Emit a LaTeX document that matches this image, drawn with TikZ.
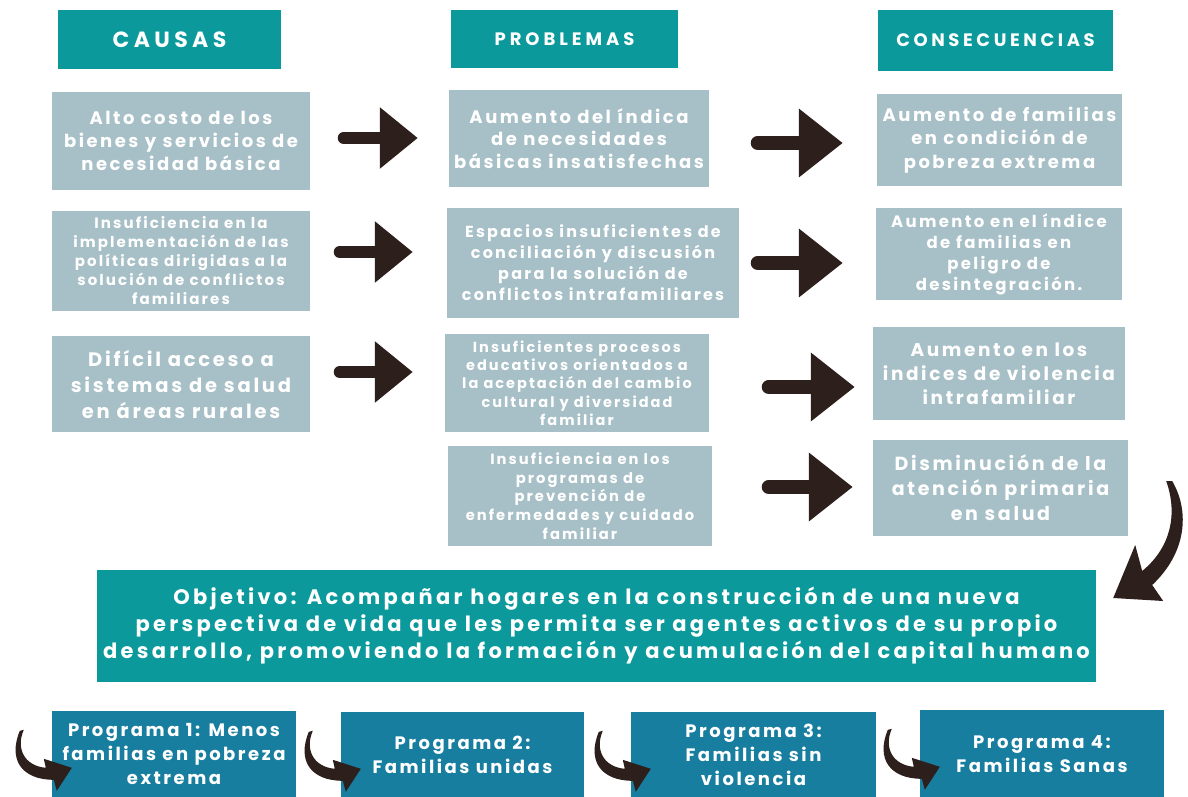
\documentclass[tikz,border=0pt]{standalone}
\usepackage{fontspec}
\setmainfont{Poppins}[LetterSpace=14]
\usetikzlibrary{arrows.meta,calc}
\definecolor{hdr}{HTML}{0B999C}
\definecolor{gbox}{HTML}{A7BFC6}
\definecolor{prog}{HTML}{187EA0}
\definecolor{arr}{HTML}{2D1F1C}
\newcommand{\setfs}[2]{\fontsize{#1}{#2}\selectfont}
\begin{document}
\begin{tikzpicture}[x=1pt,y=-1pt,
  box/.style={rectangle, inner sep=1pt, align=center, text=white, font=\bfseries},
  hbox/.style={box, fill=hdr},
  gb/.style={box, fill=gbox},
  pb/.style={box, fill=prog},
  bigarrow/.style={draw=arr, line width=12pt, line cap=round, -{Triangle[length=38pt 0, width=59pt 0]}},
  bigarrowR/.style={draw=arr, line width=14pt, line cap=round, -{Triangle[length=44pt 0, width=66pt 0]}},
  curv/.style={fill=arr}]
\useasboundingbox (0,0) rectangle (1188,797);
% headers
\node[hbox, minimum width=223pt, minimum height=59pt, font=\bfseries\setfs{22}{26}\addfontfeature{LetterSpace=20}] (hc) at (169.5,39.5) {CAUSAS};
\node[hbox, minimum width=227pt, minimum height=58pt, font=\bfseries\setfs{18}{22}\addfontfeature{LetterSpace=22}] (hp) at (564.5,39) {PROBLEMAS};
\node[hbox, minimum width=235pt, minimum height=61pt, font=\bfseries\setfs{18}{22}\addfontfeature{LetterSpace=20}] (hq) at (995.5,40.5) {CONSECUENCIAS};
% causes
\node[gb, minimum width=258pt, minimum height=98pt, font=\bfseries\setfs{18}{23}] (c1) at (181,141) {Alto costo de los\\bienes y servicios de\\necesidad básica};
\node[gb, minimum width=258pt, minimum height=100pt, font=\bfseries\setfs{15}{19}] (c2) at (181,261) {Insuficiencia en la\\implementación de las\\políticas dirigidas a la\\solución de conflictos\\familiares};
\node[gb, minimum width=258pt, minimum height=96pt, font=\bfseries\setfs{19.5}{26}] (c3) at (181,384) {Difícil acceso a\\sistemas de salud\\en áreas rurales};
% problems
\node[gb, minimum width=260pt, minimum height=97pt, font=\bfseries\setfs{18}{22.5}] (p1) at (579,138.5) {Aumento del índica\\de necesidades\\básicas insatisfechas};
\node[gb, minimum width=292pt, minimum height=110pt, font=\bfseries\setfs{16}{21}] (p2) at (593,263) {Espacios insuficientes de\\conciliación y discusión\\para la solución de\\conflictos intrafamiliares};
\node[gb, minimum width=264pt, minimum height=98pt, font=\bfseries\setfs{14.5}{18.3}] (p3) at (577,383) {Insuficientes procesos\\educativos orientados a\\la aceptación del cambio\\cultural y diversidad\\familiar};
\node[gb, minimum width=264pt, minimum height=100pt, font=\bfseries\setfs{14.7}{18.7}] (p4) at (580,496) {Insuficiencia en los\\programas de\\prevención de\\enfermedades y cuidado\\familiar};
% consequences
\node[gb, minimum width=245pt, minimum height=92pt, font=\bfseries\setfs{18}{23.5}] (q1) at (999.5,140) {Aumento de familias\\en condición de\\pobreza extrema};
\node[gb, minimum width=246pt, minimum height=92pt, font=\bfseries\setfs{16.5}{21}] (q2) at (999,254) {Aumento en el índice\\de familias en\\peligro de\\desintegración.};
\node[gb, minimum width=252pt, minimum height=93pt, font=\bfseries\setfs{18.5}{24}] (q3) at (999,373.5) {Aumento en los\\indices de violencia\\intrafamiliar};
\node[gb, minimum width=255pt, minimum height=96pt, font=\bfseries\setfs{19}{25}] (q4) at (1000.5,488) {Disminución de la\\atención primaria\\en salud};
% objective
\node[hbox, minimum width=999pt, minimum height=112pt, font=\bfseries\setfs{21}{27}\addfontfeature{LetterSpace=15.5}] (obj) at (596.5,626) {Objetivo: Acompañar hogares en la construcción de una nueva\\perspectiva de vida que les permita ser agentes activos de su propio\\desarrollo, promoviendo la formación y acumulación del capital humano};
% programs
\node[pb, minimum width=244pt, minimum height=86pt, font=\bfseries\setfs{18}{24}] (pr1) at (174,754) {Programa 1: Menos\\familias en pobreza\\extrema};
\node[pb, minimum width=243pt, minimum height=86pt, font=\bfseries\setfs{18}{24}] (pr2) at (462.5,755) {Programa 2:\\Familias unidas};
\node[pb, minimum width=245pt, minimum height=86pt, font=\bfseries\setfs{18}{24}] (pr3) at (753.5,755) {Programa 3:\\Familias sin\\violencia};
\node[pb, minimum width=244pt, minimum height=88pt, font=\bfseries\setfs{18}{24}] (pr4) at (1042,754) {Programa 4:\\Familias Sanas};
% straight arrows
\draw[bigarrow] ($(c1.east)+(33.5,-3)$) -- ($(c1.east -| p1.west)+(-31,-3)$);
\draw[bigarrow] ($(c2.east)+(29.5,-9)$) -- ($(c2.east -| p2.west)+(-34,-9)$);
\draw[bigarrow] ($(c3.east)+(29.5,-12)$) -- ($(c3.east -| p3.west)+(-32,-12)$);
\draw[bigarrowR] ($(p1.east)+(48.5,4.5)$) -- ($(p1.east -| q1.west)+(-34,4.5)$);
\draw[bigarrowR] ($(p2.east)+(18.5,0)$) -- ($(p2.east -| q2.west)+(-33,0)$);
\draw[bigarrowR] ($(p3.east)+(59.5,4)$) -- ($(p3.east -| q3.west)+(-18,4)$);
\draw[bigarrowR] ($(p4.east)+(56.5,-9)$) -- ($(p4.east -| q4.west)+(-20,-9)$);
% big curved arrow q4 -> objective
\fill[curv, shift={(q4.east)}] (38,-7) .. controls (50,27) and (42,60) .. (14,83)
  -- (7,57) -- (-15,110) -- (35,113) -- (24,97)
  .. controls (58,65) and (62,24) .. (44,-7) -- cycle;
% small curved arrows into programs
\foreach \p in {pr1,pr2,pr3,pr4}{
  \fill[curv, shift={(\p.north west)}] (-28,19) .. controls (-36,37) and (-28,55) .. (-6,57)
    -- (-8,48) -- (20,57) -- (5,80) -- (2,69)
    .. controls (-30,69) and (-44,49) .. (-32,20) -- cycle;
}
\end{tikzpicture}
\end{document}
